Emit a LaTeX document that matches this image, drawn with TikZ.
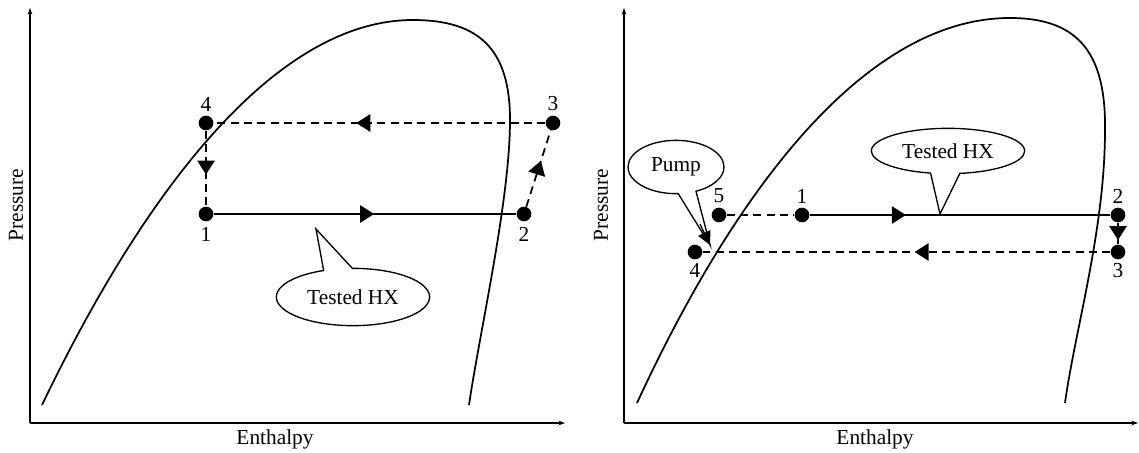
\documentclass[tikz,border=0pt]{standalone}
\usepackage{fontspec}
\setmainfont{Liberation Serif}
\usetikzlibrary{arrows.meta,decorations.markings,shapes.callouts,shapes.geometric,positioning}
\tikzset{
    statept/.style={circle,fill,inner sep=0pt,minimum size=11pt},
    ptlabel/.style={inner sep=1pt},
    cyc/.style={line width=1.3pt},
    cycdash/.style={line width=1.3pt,dash pattern={on 6pt off 4pt}},
    midarrow/.style={postaction={decorate},decoration={markings,mark=at position #1 with {\arrow{Triangle[length=10.5pt,width=13pt]}}}},
    midarrow/.default=0.5,
    bubble/.style={ellipse callout,draw,line width=1pt,inner sep=0pt,callout pointer arc=22},
    axisline/.style={line width=1.1pt,-{Stealth[length=5pt,width=3.5pt]}},
    dome/.style={line width=1.3pt}
}
\begin{document}
\begin{tikzpicture}[x=0.75pt,y=0.75pt,yscale=-1,xscale=1,every node/.style={font=\fontsize{16}{19}\selectfont}]
        \useasboundingbox (0,0) rectangle (1139,453);
        % left chart
        \draw[axisline] (30,423) -- (30,8);
        \draw[axisline] (30,423) -- (565,423);
        \node[rotate=90] (lp) at (16,205) {Pressure};
        \node (le) at (275,439) {Enthalpy};
        \draw[dome] (42,405) .. controls (150,180) and (280,20) .. (413,20) .. controls (480,20) and (510,50) .. (510,120) .. controls (510,200) and (480,330) .. (469,405);
        \node[statept] (l4) at (206,123) {};
        \node[statept] (l3) at (553,123) {};
        \node[statept] (l1) at (206,214) {};
        \node[statept] (l2) at (524,214) {};
        \node[ptlabel,above=2pt of l4] {4};
        \node[ptlabel,above=2pt of l3] {3};
        \node[ptlabel,below=3pt of l1] {1};
        \node[ptlabel,below=3pt of l2] {2};
        \draw[cycdash,midarrow=0.57] (l3) -- (l4);
        \draw[cycdash,midarrow=0.58] (l4) -- (l1);
        \draw[cyc,midarrow=0.53] (l1) -- (l2);
        \draw[cycdash,midarrow=0.6] (l2) -- (l3);
        \node[bubble,minimum width=115pt,minimum height=43pt,callout absolute pointer={(316,229)}] (lhx) at (353,297) {Tested HX};
        % right chart
        \draw[axisline] (624,423) -- (624,8);
        \draw[axisline] (624,423) -- (1138,423);
        \node[rotate=90] (rp) at (601,205) {Pressure};
        \node (re) at (875,439) {Enthalpy};
        \draw[dome] (637,403) .. controls (740,180) and (870,18) .. (1010,18) .. controls (1080,18) and (1106,55) .. (1105,130) .. controls (1105,230) and (1075,330) .. (1065,403);
        \node[statept] (r5) at (719,215) {};
        \node[statept] (r1) at (802,215) {};
        \node[statept] (r2) at (1118,215) {};
        \node[statept] (r3) at (1118,252) {};
        \node[statept] (r4) at (695,252) {};
        \node[ptlabel,above=2pt of r5] {5};
        \node[ptlabel,above=2pt of r1] {1};
        \node[ptlabel,above=2pt of r2] {2};
        \node[ptlabel,below=2pt of r3] {3};
        \node[ptlabel,below=2pt of r4] {4};
        \draw[cycdash] (r5) -- (r1);
        \draw[cyc,midarrow=0.32] (r1) -- (r2);
        \draw[cyc,midarrow=0.8] (r2) -- (r3);
        \draw[cycdash,midarrow=0.48] (r3) -- (r4);
        \node[bubble,minimum width=115pt,minimum height=34pt,callout absolute pointer={(940,214)}] (rhx) at (948,151) {Tested HX};
        \coordinate (pumpa) at (700,224);
        \coordinate (pumpb) at (710,245);
        \node[bubble,minimum width=72pt,minimum height=40pt,callout absolute pointer={(pumpb)}] (pump) at (676,167) {Pump};
        \draw[line width=1pt,-{Triangle[length=10pt,width=10pt]}] (pumpa) -- (pumpb);
\end{tikzpicture}
\end{document}
